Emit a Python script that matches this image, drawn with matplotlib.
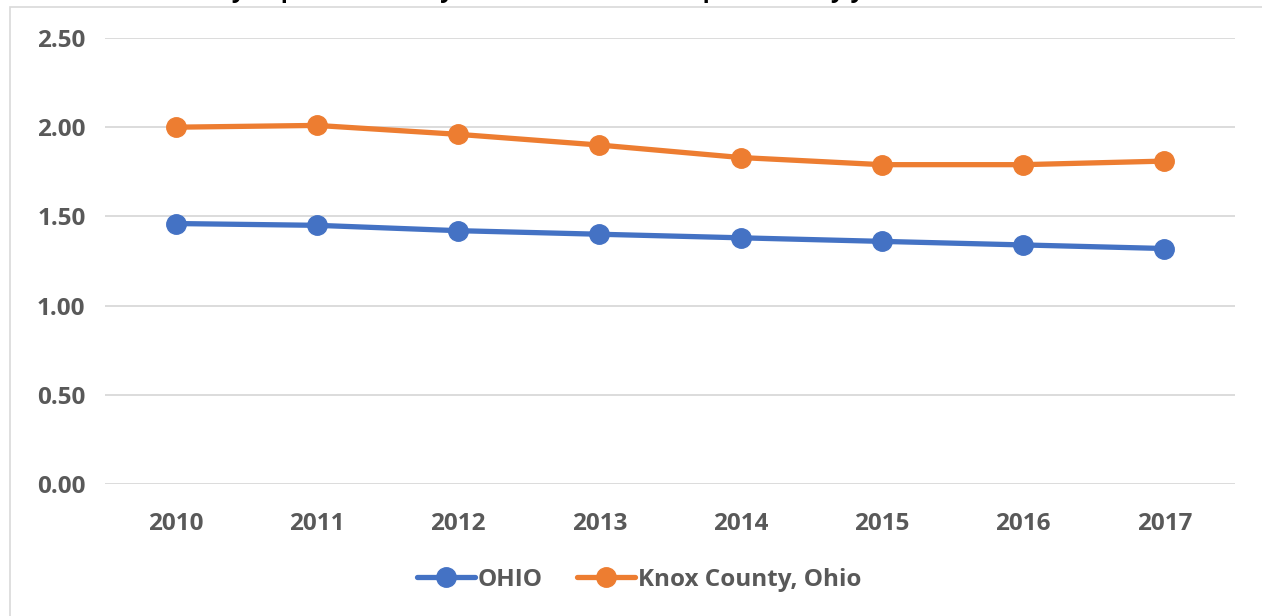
import matplotlib
matplotlib.use("Agg")
import matplotlib.pyplot as plt
from matplotlib.patches import Rectangle

# data
years = ["2010", "2011", "2012", "2013", "2014", "2015", "2016", "2017"]
ohio = [1.46, 1.45, 1.42, 1.40, 1.38, 1.36, 1.34, 1.32]
knox = [2.00, 2.01, 1.96, 1.90, 1.83, 1.79, 1.79, 1.81]
y_ticks = [0.0, 0.5, 1.0, 1.5, 2.0, 2.5]
series_names = ["OHIO", "Knox County, Ohio"]
title = "Ratio to Knox County Population (Per year rate, Per 1,000 Population) by year"

blue = "#4472C4"
orange = "#ED7D31"
grid_c = "#D9D9D9"
text_c = "#595959"

plt.rcParams["font.family"] = ["Open Sans", "DejaVu Sans"]

fig = plt.figure(figsize=(12.62, 6.16), dpi=100)
ax = fig.add_axes([105 / 1262, 1 - 484 / 616, (1235 - 105) / 1262, (484 - 38) / 616])

# outer chart border (partly cut off in the original)
fig.patches.append(Rectangle((10 / 1262, -0.2), 1.2, 1.2 - 7 / 616, transform=fig.transFigure,
                             fill=False, edgecolor=grid_c, linewidth=1.2))
# title, the original image is cropped so only the bottom of it shows
fig.text(-0.002, 1 + 3 / 616, title, va="baseline", ha="left", fontsize=17, fontweight="bold",
         color="black")

x = list(range(len(years)))
ax.plot(x, ohio, color=blue, linewidth=3.8, marker="o", markersize=14, label=series_names[0],
        solid_capstyle="round")
ax.plot(x, knox, color=orange, linewidth=3.8, marker="o", markersize=14, label=series_names[1],
        solid_capstyle="round")

ax.set_xlim(-0.5, len(years) - 0.5)
ax.set_ylim(0, 2.5)
ax.set_yticks(y_ticks)
ax.set_yticklabels([f"{v:.2f}" for v in y_ticks])
ax.set_xticks(x)
ax.set_xticklabels(years)
ax.yaxis.grid(True, color=grid_c, linewidth=1.3)
ax.set_axisbelow(True)
for s in ax.spines.values():
    s.set_visible(False)
ax.tick_params(axis="both", length=0, labelsize=17.5, labelcolor=text_c)
ax.tick_params(axis="x", pad=20)
ax.tick_params(axis="y", pad=14)
for lab in ax.get_xticklabels() + ax.get_yticklabels():
    lab.set_fontweight("bold")
for ln in ax.lines:
    ln.set_clip_on(False)

leg = fig.legend(loc="center", bbox_to_anchor=(639 / 1262, 1 - 580 / 616), ncol=2, frameon=False,
                 handlelength=2.4, handletextpad=0.1, columnspacing=1.4,
                 prop={"size": 17.5, "weight": "bold"})
for t in leg.get_texts():
    t.set_color(text_c)

fig.savefig("out.png", dpi=100)
